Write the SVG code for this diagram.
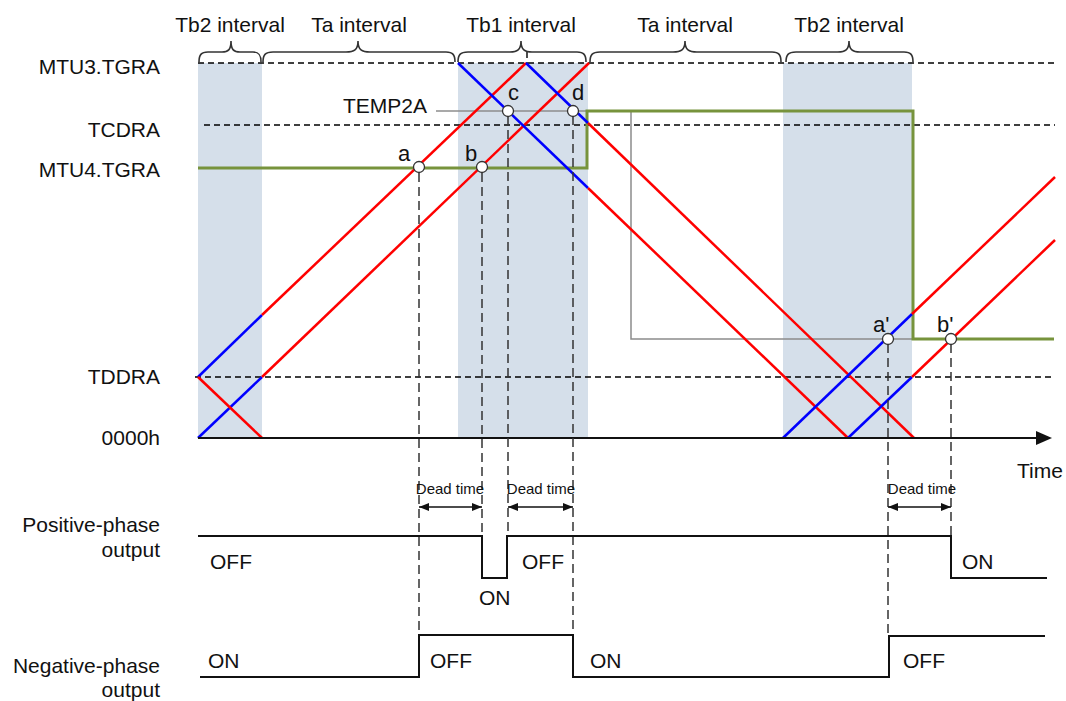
<svg xmlns="http://www.w3.org/2000/svg" width="1066" height="701" viewBox="0 0 1066 701">
<style>
text{font-family:"Liberation Sans",Arial,sans-serif;font-size:21px;fill:#111}
.lbl{text-anchor:end}
.mid{text-anchor:middle}
.pl{font-size:22px}
.dt{font-size:15px;text-anchor:middle}
.shade{fill:#d5dfea}
.hd{stroke:#000;stroke-width:1.4;stroke-dasharray:6 4;fill:none}
.vd{stroke:#333;stroke-width:1.5;stroke-dasharray:9 5;fill:none}
.red{stroke:#ff0000;stroke-width:2.5;fill:none}
.blue{stroke:#0000ff;stroke-width:2.5;fill:none}
.green{stroke:#77933c;stroke-width:3;fill:none}
.gray{stroke:#8c8c8c;stroke-width:1.5;fill:none}
.wave{stroke:#111;stroke-width:2;fill:none}
.brace{stroke:#333;stroke-width:1.6;fill:none}
.pt{fill:#fff;stroke:#333;stroke-width:1.3}
.arr{stroke:#111;stroke-width:1.6;fill:none;marker-start:url(#ah);marker-end:url(#ah)}
</style>
<defs>
<marker id="ah" viewBox="0 0 10 8" refX="10" refY="4" markerWidth="10" markerHeight="8" markerUnits="userSpaceOnUse" orient="auto-start-reverse">
<path d="M0,0 L10,4 L0,8 z" fill="#111"/>
</marker>
</defs>
<rect width="1066" height="701" fill="#fff"/>

<g id="shading">
<rect class="shade" x="198" y="63" width="64" height="375"/>
<rect class="shade" x="458" y="63" width="130" height="375"/>
<rect class="shade" x="783" y="63" width="129" height="375"/>
</g>

<g id="levels">
<line class="hd" x1="198" y1="63" x2="1055" y2="63"/>
<line class="hd" x1="204" y1="125" x2="1055" y2="125"/>
<line class="hd" x1="195" y1="377" x2="1055" y2="377"/>
<line class="hd" x1="527" y1="52" x2="527" y2="63"/>
</g>

<g id="connectors">
<polyline class="gray" points="436,111 586,111"/>
<polyline class="gray" points="631,111 631,339 912,339"/>
<polyline class="green" points="198,168 587,168 587,111 913,111 913,339 1054,339"/>

<line class="blue" x1="198" y1="377" x2="262" y2="315"/>
<line class="red" x1="262" y1="315" x2="526" y2="63"/>
<line class="blue" x1="198" y1="438" x2="262" y2="377"/>
<line class="red" x1="262" y1="377" x2="589" y2="63"/>
<line class="red" x1="198" y1="377" x2="262" y2="438"/>

<line class="blue" x1="458" y1="63" x2="588" y2="188"/>
<line class="red" x1="588" y1="188" x2="848" y2="438"/>
<line class="blue" x1="526" y1="63" x2="588" y2="123"/>
<line class="red" x1="588" y1="123" x2="914" y2="438"/>

<line class="blue" x1="783" y1="438" x2="912" y2="314"/>
<line class="red" x1="912" y1="314" x2="1055" y2="177"/>
<line class="blue" x1="848" y1="438" x2="912" y2="377"/>
<line class="red" x1="912" y1="377" x2="1055" y2="240"/>

<line stroke="#111" stroke-width="2" x1="198" y1="438" x2="1040" y2="438"/>
<path d="M1052,438 L1036,431 L1036,445 z" fill="#111"/>

<line class="vd" x1="419" y1="173" x2="419" y2="635"/>
<line class="vd" x1="482" y1="173" x2="482" y2="536"/>
<line class="vd" x1="508" y1="116" x2="508" y2="536"/>
<line class="vd" x1="573" y1="116" x2="573" y2="635"/>
<line class="vd" x1="888" y1="344" x2="888" y2="636"/>
<line class="vd" x1="951" y1="344" x2="951" y2="536"/>

<line class="arr" x1="419" y1="507" x2="482" y2="507"/>
<line class="arr" x1="508" y1="507" x2="573" y2="507"/>
<line class="arr" x1="888" y1="507" x2="951" y2="507"/>
</g>

<g id="points">
<circle class="pt" cx="419" cy="167" r="5.5"/>
<circle class="pt" cx="482" cy="167" r="5.5"/>
<circle class="pt" cx="508" cy="111" r="5.5"/>
<circle class="pt" cx="573" cy="111" r="5.5"/>
<circle class="pt" cx="888" cy="339" r="5.5"/>
<circle class="pt" cx="951" cy="339" r="5.5"/>
<text class="pl" x="398" y="161">a</text>
<text class="pl" x="465" y="161">b</text>
<text class="pl" x="508" y="100">c</text>
<text class="pl" x="572" y="100">d</text>
<text class="pl" x="873" y="332">a'</text>
<text class="pl" x="937" y="332">b'</text>
</g>

<g id="axis-labels">
<text class="lbl" x="160" y="74">MTU3.TGRA</text>
<text class="lbl" x="160" y="137">TCDRA</text>
<text class="lbl" x="160" y="177">MTU4.TGRA</text>
<text class="lbl" x="160" y="384">TDDRA</text>
<text class="lbl" x="160" y="445">0000h</text>
<text class="lbl" x="427" y="113">TEMP2A</text>
<text x="1017" y="478">Time</text>
</g>

<g id="intervals">
<path class="brace" d="M199,62 C199,55 201,52 208,52 L222,52 C228,52 231,50 231,41 C231,50 234,52 240,52 L253,52 C259,52 261,55 261,62"/>
<path class="brace" d="M263,62 C263,55 265,52 273,52 L346,52 C354,52 358,50 358,41 C358,50 362,52 370,52 L446,52 C453,52 455,55 455,62"/>
<path class="brace" d="M458,62 C458,55 460,52 468,52 L510,52 C517,52 521,50 521,41 C521,50 525,52 532,52 L577,52 C584,52 586,55 586,62"/>
<path class="brace" d="M590,62 C590,55 592,52 600,52 L673,52 C681,52 685,50 685,41 C685,50 689,52 697,52 L772,52 C779,52 781,55 781,62"/>
<path class="brace" d="M786,62 C786,55 788,52 796,52 L838,52 C845,52 849,50 849,41 C849,50 853,52 860,52 L904,52 C911,52 913,55 913,62"/>
<text class="mid" x="230" y="32">Tb2 interval</text>
<text class="mid" x="359" y="32">Ta interval</text>
<text class="mid" x="521" y="32">Tb1 interval</text>
<text class="mid" x="685" y="32">Ta interval</text>
<text class="mid" x="849" y="32">Tb2 interval</text>
</g>

<g id="deadtime-labels">
<text class="dt" x="450" y="494">Dead time</text>
<text class="dt" x="541" y="494">Dead time</text>
<text class="dt" x="922" y="494">Dead time</text>
</g>

<g id="positive-phase">
<polyline class="wave" points="198,536 482,536 482,578 507,578 507,536 951,536 951,578 1047,578"/>
<text class="lbl" x="160" y="532">Positive-phase</text>
<text class="lbl" x="160" y="557">output</text>
<text x="210" y="569">OFF</text>
<text x="479" y="605">ON</text>
<text x="522" y="569">OFF</text>
<text x="962" y="569">ON</text>
</g>

<g id="negative-phase">
<polyline class="wave" points="200,677 419,677 419,635 573,635 573,677 889,677 889,636 1045,636"/>
<text class="lbl" x="160" y="673">Negative-phase</text>
<text class="lbl" x="160" y="697">output</text>
<text x="208" y="668">ON</text>
<text x="430" y="668">OFF</text>
<text x="590" y="668">ON</text>
<text x="903" y="668">OFF</text>
</g>
</svg>
